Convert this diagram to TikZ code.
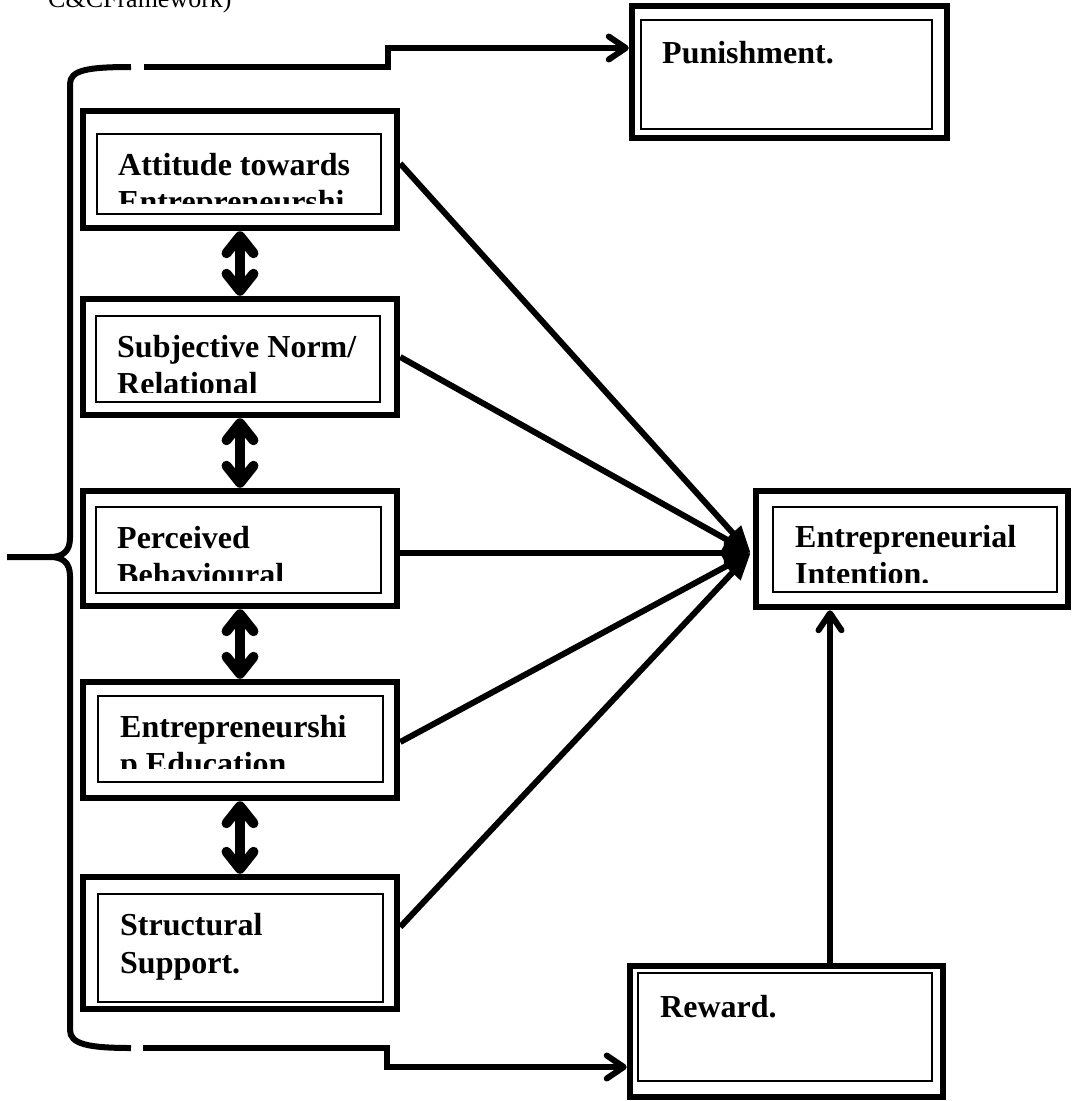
\documentclass[tikz,border=0pt]{standalone}
\usepackage{fontspec}
\setmainfont{Liberation Serif}[BoldFont={Liberation Serif Bold}]
\usetikzlibrary{arrows.meta,calc}
\begin{document}
\begin{tikzpicture}[x=1pt,y=-1pt,
  outerbox/.style={draw,line width=6.5pt,minimum width=314pt,inner sep=0pt},
  innerbox/.style={draw,line width=1.6pt},
  lbl/.style={anchor=base west,inner sep=0pt,font=\fontsize{32}{37}\selectfont\bfseries},
  conn/.style={line width=6pt},
  barb/.style={-{Straight Barb[length=17pt,width=23pt,line cap=round,line join=round]}},
  conv/.style={line width=6pt,-{Triangle[length=27pt,width=21pt]}},
  bidir/.style={line width=10pt,{Straight Barb[length=17pt,width=27pt,line cap=round,line join=round]}-{Straight Barb[length=17pt,width=27pt,line cap=round,line join=round]}},
  brace/.style={line width=6pt}]
\useasboundingbox (0,0) rectangle (1075,1101);

% title fragment (cut at the top edge, as in the original)
\begin{scope}
\clip (0,0) rectangle (1075,20);
\node[anchor=base west,inner sep=0pt,font=\fontsize{26}{30}\selectfont] (title) at (48,7) {C\&CFramework)};
\end{scope}

% outer boxes
\node[outerbox,minimum height=117pt] (att) at (240,169.5) {};
\node[outerbox,minimum height=116pt] (sub) at (240,357) {};
\node[outerbox,minimum height=115pt] (per) at (240,548.5) {};
\node[outerbox,minimum height=116pt] (edu) at (240,740) {};
\node[outerbox,minimum height=132pt] (str) at (240,943) {};
\node[outerbox,minimum width=312pt,minimum height=116pt] (ei) at (912,549) {};
\node[outerbox,minimum width=315pt,minimum height=132pt] (pun) at (789.5,72) {};
\node[outerbox,minimum width=313pt,minimum height=131pt] (rew) at (786.5,1031.5) {};

% inner boxes
\draw[innerbox] (97,134) rectangle (381,214);
\draw[innerbox] (96,316) rectangle (380,402);
\draw[innerbox] (96,507) rectangle (381,593);
\draw[innerbox] (98,696) rectangle (383,782);
\draw[innerbox] (98,894) rectangle (383,1002);
\draw[innerbox] (773,507) rectangle (1057,592);
\draw[innerbox] (641,20) rectangle (932,129);
\draw[innerbox] (638,973) rectangle (932,1081);

% texts
\begin{scope}
\clip (98,135) rectangle (380,203);
\node[lbl] (att1) at (118,175) {Attitude towards};
\node[lbl] (att2) at (118,212) {Entrepreneurshi};
\end{scope}
\begin{scope}
\clip (97,317) rectangle (379,392);
\node[lbl] (sub1) at (117,357) {Subjective Norm/};
\node[lbl] (sub2) at (117,394) {Relational};
\end{scope}
\begin{scope}
\clip (97,508) rectangle (380,580);
\node[lbl] (per1) at (117,548) {Perceived};
\node[lbl] (per2) at (117,585) {Behavioural};
\end{scope}
\begin{scope}
\clip (99,697) rectangle (382,768);
\node[lbl] (edu1) at (120,737) {Entrepreneurshi};
\node[lbl] (edu2) at (120,774) {p Education.};
\end{scope}
\node[lbl] (str1) at (120,935) {Structural};
\node[lbl] (str2) at (120,973) {Support.};
\begin{scope}
\clip (774,508) rectangle (1056,582);
\node[lbl] (ei1) at (795,547) {Entrepreneurial};
\node[lbl] (ei2) at (795,584) {Intention.};
\end{scope}
\node[lbl] (pun1) at (662,63) {Punishment.};
\node[lbl] (rew1) at (660,1017) {Reward.};

% brace
\draw[brace] (131,67) .. controls (88,67) and (70,70) .. (70,84) -- (70,538) .. controls (70,552) and (62,557) .. (50,557) -- (7,557);
\draw[brace] (50,557) .. controls (62,557) and (70,562) .. (70,576) -- (70,1030) .. controls (70,1044) and (88,1048) .. (131,1048);

% connectors from brace
\coordinate (bt) at (144,67);
\coordinate (bb) at (143,1048);
\draw[conn,barb] (bt) -- ++(244,0) |- ($(pun.west)+(0,-24)$);
\draw[conn,barb] (bb) -- ++(244,0) |- ($(rew.west)+(0,35.5)$);

% converging arrows
\coordinate (hub) at ($(ei.west)+(-2,4)$);
\draw[conv] ($(att.east)+(0,-6)$) -- (hub);
\draw[conv] (sub.east) -- (hub);
\draw[conv] (per.east |- hub) -- (hub);
\draw[conv] ($(edu.east)+(0,2)$) -- (hub);
\draw[conv] ($(str.east)+(0,-16)$) -- (hub);

% reward to intention
\coordinate (rwup) at ($(rew.north)+(43.5,0)$);
\draw[conn,barb] (rwup) -- (rwup |- ei.south);

% double arrows
\draw[bidir] (att.south) -- (sub.north);
\draw[bidir] (sub.south) -- (per.north);
\draw[bidir] (per.south) -- (edu.north);
\draw[bidir] (edu.south) -- (str.north);
\end{tikzpicture}
\end{document}
